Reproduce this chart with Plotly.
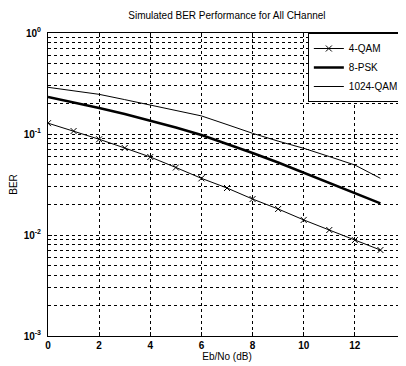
import plotly.graph_objects as go

ebno = list(range(0, 14))
ber_4qam = [0.128, 0.107, 0.0887, 0.0727, 0.0592, 0.0466, 0.0364, 0.0292, 0.0227, 0.0181, 0.0141, 0.0112, 0.0089, 0.0071]
ber_8psk = [0.232, 0.206, 0.181, 0.158, 0.1355, 0.116, 0.0977, 0.080, 0.0649, 0.0522, 0.0414, 0.0327, 0.0259, 0.0206]
ber_1024qam = [0.290, 0.268, 0.247, 0.219, 0.194, 0.171, 0.151, 0.124, 0.1016, 0.085, 0.0722, 0.0598, 0.0493, 0.0364]

x_ticks = [0, 2, 4, 6, 8, 10, 12, 14]
y_tickvals = [1, 0.1, 0.01, 0.001]
y_ticktext = ["10<sup>0</sup>", "10<sup>-1</sup>", "10<sup>-2</sup>", "10<sup>-3</sup>"]

FONT = "Liberation Sans"

fig = go.Figure()
fig.add_trace(go.Scatter(x=ebno, y=ber_4qam, mode="lines+markers", name="4-QAM",
                         line=dict(color="black", width=1),
                         marker=dict(symbol="x-thin", size=6, line=dict(color="black", width=1))))
fig.add_trace(go.Scatter(x=ebno, y=ber_8psk, mode="lines", name="8-PSK",
                         line=dict(color="black", width=2.5)))
fig.add_trace(go.Scatter(x=ebno, y=ber_1024qam, mode="lines", name="1024-QAM",
                         line=dict(color="black", width=1)))

# page body has an 8px margin, so the figure is sized/offset to compensate
fig.update_layout(
    width=398, height=358,
    margin=dict(l=40, r=0, t=25, b=30),
    paper_bgcolor="white", plot_bgcolor="white",
    font=dict(family=FONT, size=10, color="black"),
    title=dict(text="Simulated BER Performance for All CHannel", x=0.55, xanchor="center",
               y=0.988, yanchor="top", font=dict(size=10, family=FONT)),
    legend=dict(x=0.994, y=1.0, xanchor="right", yanchor="top",
                bordercolor="black", borderwidth=1, bgcolor="white",
                font=dict(size=10, family=FONT), tracegroupgap=0, itemwidth=30),
    showlegend=True,
)
fig.update_xaxes(
    range=[0, 14], tickvals=x_ticks, ticktext=[str(v) for v in x_ticks],
    showline=True, linecolor="black", linewidth=1, mirror="ticks",
    ticks="inside", ticklen=4, tickcolor="black",
    showgrid=True, gridcolor="black", griddash="dot", gridwidth=1,
    zeroline=False,
    title=dict(text="Eb/No (dB)", standoff=0, font=dict(size=10)),
    tickfont=dict(size=10, family=FONT, weight="bold"),
)
fig.update_yaxes(
    type="log", range=[-3, 0], tickvals=y_tickvals, ticktext=y_ticktext,
    showline=True, linecolor="black", linewidth=1, mirror="ticks",
    ticks="inside", ticklen=4, tickcolor="black",
    showgrid=True, gridcolor="black", griddash="dot", gridwidth=1,
    minor=dict(dtick="D1", showgrid=True, gridcolor="black", griddash="dot", gridwidth=1,
               ticks="inside", ticklen=2, tickcolor="black"),
    zeroline=False, ticklabelstandoff=4,
    title=dict(text="BER", standoff=6, font=dict(size=10)),
    tickfont=dict(size=10, family=FONT, weight="bold"),
)

fig.write_html("out.html")
